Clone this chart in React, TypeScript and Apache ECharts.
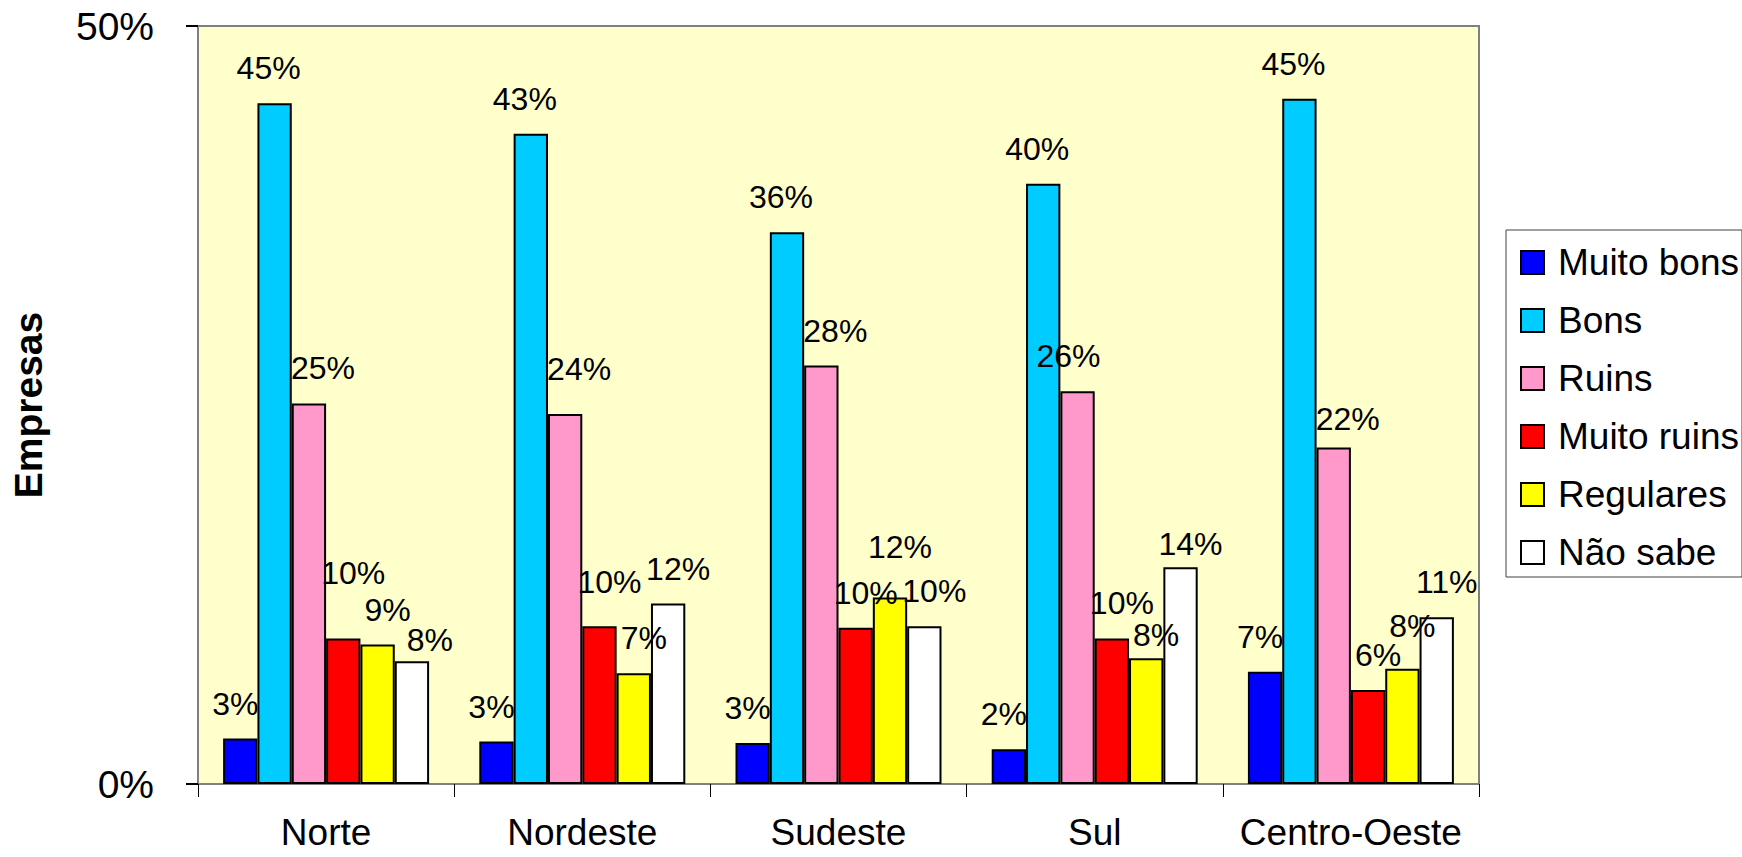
import React, { useEffect, useRef } from "react";
import * as echarts from "echarts";

const categories = ["Norte", "Nordeste", "Sudeste", "Sul", "Centro-Oeste"];
const seriesNames = ["Muito bons", "Bons", "Ruins", "Muito ruins", "Regulares", "Não sabe"];
const muitoBons = [3.0, 2.8, 2.7, 2.3, 7.4];
const bons = [44.9, 42.9, 36.4, 39.6, 45.2];
const ruins = [25.1, 24.4, 27.6, 25.9, 22.2];
const muitoRuins = [9.6, 10.4, 10.3, 9.6, 6.2];
const regulares = [9.2, 7.3, 12.3, 8.3, 7.6];
const naoSabe = [8.1, 11.9, 10.4, 14.3, 11.0];
const yTicks = [0, 50];

const seriesValues = [muitoBons, bons, ruins, muitoRuins, regulares, naoSabe];
const colors = ["#0000FF", "#00CCFF", "#FF99CC", "#FF0000", "#FFFF00", "#FFFFFF"];
const labelOffsets = [[-5, 0], [-6, 0], [14, 0], [10, 0], [10, 0], [10, 0]];
// extra per-label nudges [dx, dy] (label placement only, as in the original)
const labelNudges: Record<string, number[]> = {
  "Norte|Muito ruins": [0, -30],
  "Norte|Não sabe": [8, 14],
  "Nordeste|Ruins": [0, -10],
  "Nordeste|Muito ruins": [0, -9],
  "Sudeste|Regulares": [0, -16],
  "Sul|Ruins": [-23, 0],
  "Sul|Regulares": [0, 12],
  "Sul|Não sabe": [0, 12],
  "Centro-Oeste|Ruins": [0, 7],
  "Centro-Oeste|Regulares": [0, -8],
};

const FONT = "'Liberation Sans', Arial, sans-serif";

export default function App() {
  const ref = useRef<HTMLDivElement>(null);
  useEffect(() => {
    if (!ref.current) return;
    const chart = echarts.init(ref.current, null, { renderer: "svg" });
    chart.setOption({
      animation: false,
      backgroundColor: "#FFFFFF",
      textStyle: { fontFamily: FONT },
      grid: {
        left: 198,
        top: 26,
        right: 263,
        bottom: 73,
        show: true,
        backgroundColor: "#FFFFCC",
        borderColor: "#808080",
        borderWidth: 2,
      },
      legend: {
        orient: "vertical",
        left: 1506,
        top: 230,
        padding: [14, 3, 6, 14],
        itemWidth: 23,
        itemHeight: 23,
        itemGap: 21,
        icon: "rect",
        borderColor: "#404040",
        borderWidth: 1,
        backgroundColor: "#FFFFFF",
        itemStyle: { borderColor: "#000000", borderWidth: 2 },
        textStyle: {
          fontFamily: FONT,
          fontSize: 37,
          color: "#000000",
          padding: [0, 0, 0, 9],
        },
        data: seriesNames,
      },
      xAxis: {
        type: "category",
        data: categories,
        axisLine: { lineStyle: { color: "#808080", width: 2 } },
        axisTick: { show: true, length: 13, lineStyle: { color: "#000000", width: 1 } },
        axisLabel: { fontFamily: FONT, fontSize: 37, color: "#000000", margin: 30, interval: 0 },
        splitLine: { show: false },
      },
      yAxis: {
        type: "value",
        min: yTicks[0],
        max: yTicks[yTicks.length - 1],
        interval: 50,
        name: "Empresas",
        nameLocation: "middle",
        nameRotate: 90,
        nameGap: 150,
        nameTextStyle: { fontFamily: FONT, fontSize: 39, fontWeight: "bold", color: "#000000" },
        axisLine: { show: true, lineStyle: { color: "#808080", width: 2 } },
        axisTick: { show: true, length: 12, lineStyle: { color: "#000000", width: 2 } },
        axisLabel: {
          fontFamily: FONT,
          fontSize: 39,
          color: "#000000",
          margin: 44,
          formatter: "{value}%",
        },
        splitLine: { show: false },
      },
      series: seriesNames.map((name, i) => ({
        name,
        type: "bar",
        data: seriesValues[i].map((v, j) => {
          const n = labelNudges[categories[j] + "|" + name];
          if (!n) return v;
          return {
            value: v,
            label: { offset: [labelOffsets[i][0] + n[0], labelOffsets[i][1] + n[1]] },
          };
        }),
        barGap: "0%",
        barCategoryGap: "19.6%",
        itemStyle: { color: colors[i], borderColor: "#000000", borderWidth: 2 },
        label: {
          show: true,
          position: "top",
          distance: 19,
          offset: labelOffsets[i],
          fontFamily: FONT,
          fontSize: 32,
          color: "#000000",
          formatter: (p: any) => Math.round(p.value) + "%",
        },
      })),
    });
    return () => chart.dispose();
  }, []);
  return (
    <div
      ref={ref}
      style={{ position: "fixed", left: 0, top: 0, width: 1742, height: 857, background: "#fff" }}
    />
  );
}
